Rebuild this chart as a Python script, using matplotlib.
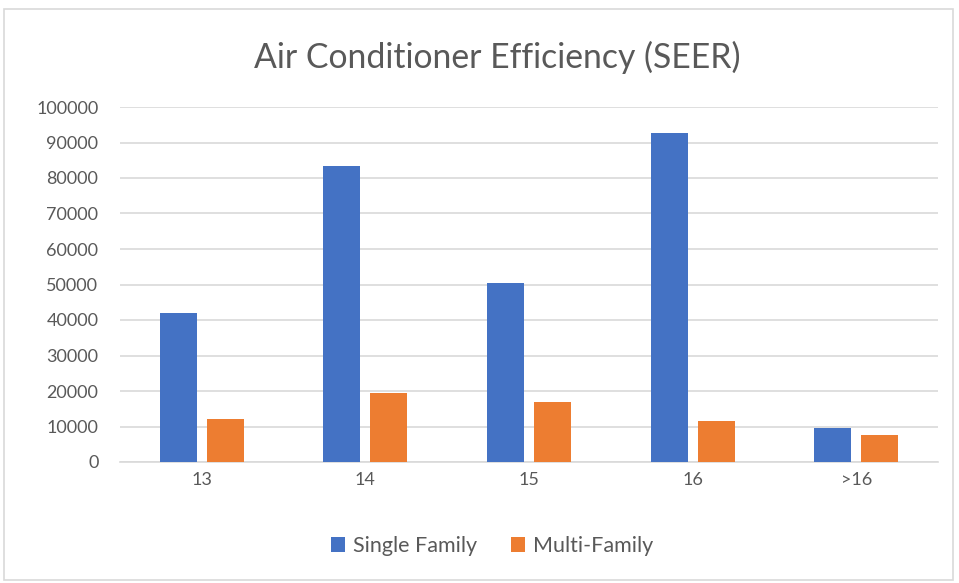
import numpy as np
import matplotlib.pyplot as plt
from matplotlib.patches import Rectangle

plt.rcParams['font.family'] = ['Lato', 'DejaVu Sans']

# ====== Data ======
categories = ["13", "14", "15", "16", ">16"]
single_family = [41900, 83300, 50400, 92800, 9700]
multi_family = [12200, 19400, 16800, 11500, 7500]

blue = "#4472C4"
orange = "#ED7D31"
text_col = "#595959"
grid_col = "#D9D9D9"

fig = plt.figure(figsize=(9.59, 5.83), dpi=100)
ax = fig.add_axes([120 / 959, 1 - 462 / 583, 818 / 959, 355 / 583])

x = np.arange(len(categories))
w = 0.226
off = 0.144
ax.bar(x - off, single_family, w, color=blue, label="Single Family", zorder=3)
ax.bar(x + off, multi_family, w, color=orange, label="Multi-Family", zorder=3)

ax.set_xlim(-0.5, len(categories) - 0.5)
ax.set_ylim(0, 100000)
ax.set_yticks(np.arange(0, 100001, 10000))
ax.set_xticks(x)
ax.set_xticklabels(categories)
ax.yaxis.grid(True, color=grid_col, linewidth=1.2, zorder=0)
ax.tick_params(axis="both", length=0, labelsize=13, colors=text_col)
ax.tick_params(axis="x", pad=7)
ax.tick_params(axis="y", pad=15.5)
for s in ["top", "right", "left"]:
    ax.spines[s].set_visible(False)
ax.spines["bottom"].set_color(grid_col)
ax.spines["bottom"].set_linewidth(1.2)

fig.text(497 / 959, 1 - 57 / 583, "Air Conditioner Efficiency (SEER)",
         ha="center", va="center", fontsize=24.3, color=text_col)

fig.legend(loc="center", bbox_to_anchor=(492 / 959, 1 - 546 / 583), ncol=2,
           frameon=False, fontsize=15.5, labelcolor=text_col,
           handlelength=0.65, handleheight=0.65, handletextpad=0.35, columnspacing=1.6)

# chart border
fig.patches.append(Rectangle((4 / 959, 1 - 580 / 583), 949 / 959, 571 / 583,
                             transform=fig.transFigure, fill=False,
                             edgecolor="#D9D9D9", linewidth=1.2))

fig.savefig("out.png", dpi=100, facecolor="white")
